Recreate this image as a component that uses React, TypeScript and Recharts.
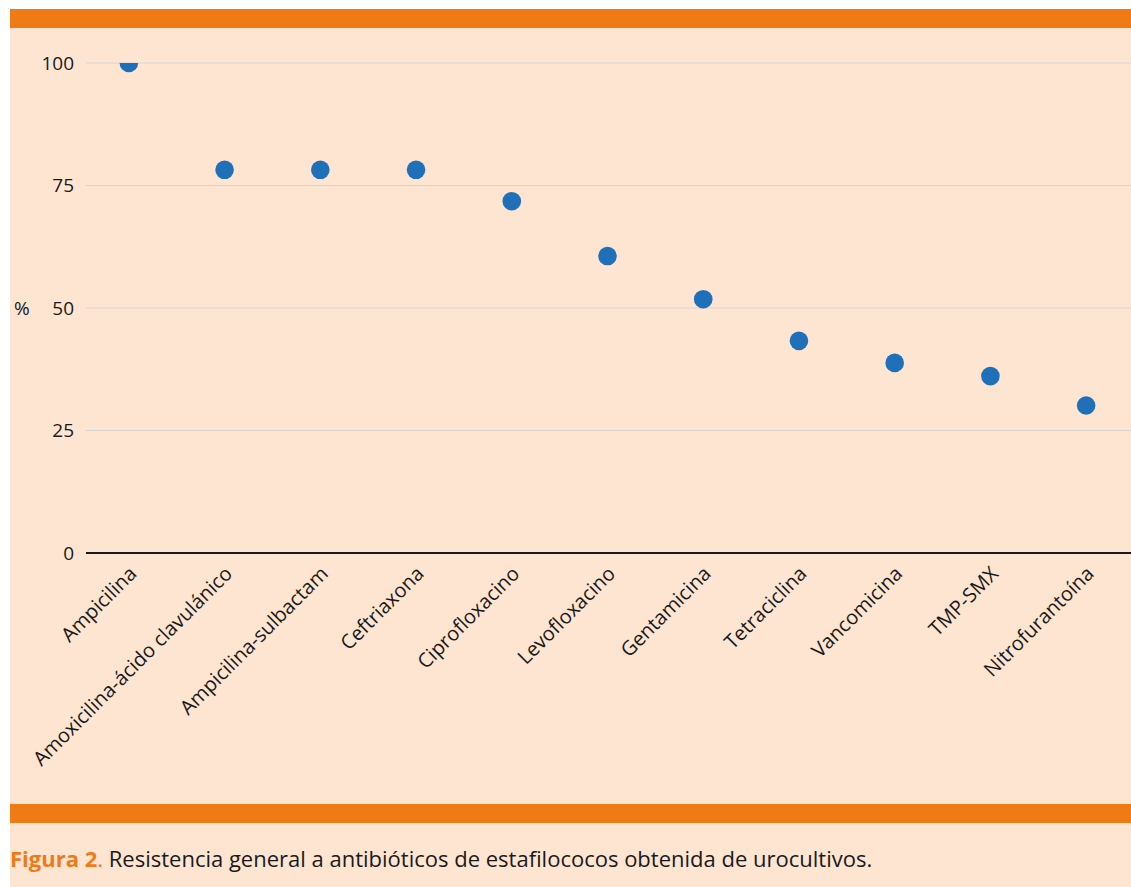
import { CartesianGrid, Scatter, ScatterChart, XAxis, YAxis } from 'recharts';

const antibiotics = [
  'Ampicilina',
  'Amoxicilina-ácido clavulánico',
  'Ampicilina-sulbactam',
  'Ceftriaxona',
  'Ciprofloxacino',
  'Levofloxacino',
  'Gentamicina',
  'Tetraciclina',
  'Vancomicina',
  'TMP-SMX',
  'Nitrofurantoína',
];
const resistance = [100, 78.2, 78.2, 78.2, 71.8, 60.6, 51.8, 43.3, 38.8, 36.1, 30.1];
const yTicks = [0, 25, 50, 75, 100];

const FONT = '"Open Sans", Lato, sans-serif';
const ORANGE = '#f07a16';
const PEACH = '#fde5d2';
const INK = '#1a1a1a';
const DOT = '#1f70b8';

const data = antibiotics.map((name, i) => ({ name, value: resistance[i] }));

function CategoryTick({ x, y, payload }: any) {
  return (
    <g transform={`translate(${x + 9},${y + 14})`}>
      <text textAnchor="end" transform="rotate(-45)" fontSize={20} fill={INK} fontFamily={FONT}>
        {payload.value}
      </text>
    </g>
  );
}

// dots are clipped to the plot area (the 100% point is cut in half)
function Dot({ cx, cy, index }: any) {
  const id = `dot-clip-${index}`;
  return (
    <g>
      <defs>
        <clipPath id={id}>
          <rect x={86} y={63} width={1045} height={490} />
        </clipPath>
      </defs>
      <circle cx={cx} cy={cy} r={9.3} fill={DOT} clipPath={`url(#${id})`} />
    </g>
  );
}

export default function App() {
  return (
    <div style={{ position: 'absolute', left: 0, top: 0, width: 1131, height: 887, background: '#fff', overflow: 'hidden' }}>
      <div style={{ position: 'absolute', left: 10, top: 9, right: 0, bottom: 0, background: PEACH }} />
      <div style={{ position: 'absolute', left: 10, top: 9, right: 0, height: 19, background: ORANGE }} />
      <div style={{ position: 'absolute', left: 10, top: 804, right: 0, height: 19, background: ORANGE }} />
      <div style={{ position: 'absolute', left: 0, top: 0 }}>
        <ScatterChart width={1131} height={800} margin={{ top: 63, right: 0, bottom: 47, left: 16 }}>
          <CartesianGrid vertical={false} stroke="#d9d6d2" strokeWidth={1.2} />
          <XAxis
            dataKey="name"
            type="category"
            allowDuplicatedCategory={false}
            padding={{ left: -5, right: -3 }}
            height={200}
            axisLine={{ stroke: INK, strokeWidth: 2 }}
            tickLine={false}
            interval={0}
            tick={<CategoryTick />}
          />
          <YAxis
            dataKey="value"
            type="number"
            domain={[0, 100]}
            ticks={yTicks}
            allowDataOverflow
            width={70}
            axisLine={false}
            tickLine={false}
            tickMargin={6}
            tick={{ fontSize: 19, fill: INK, fontFamily: FONT }}
            label={{ value: '%', position: 'insideLeft', offset: -2, fontSize: 19, fill: INK, fontFamily: FONT }}
          />
          <Scatter data={data} fill={DOT} shape={<Dot />} isAnimationActive={false} />
        </ScatterChart>
      </div>
      <div style={{ position: 'absolute', left: 10, top: 843, fontFamily: FONT, fontSize: 22, color: INK, whiteSpace: 'nowrap' }}>
        <span style={{ color: ORANGE, fontWeight: 700 }}>Figura 2</span>
        <span style={{ color: ORANGE }}>. </span>
        Resistencia general a antibióticos de estafilococos obtenida de urocultivos.
      </div>
    </div>
  );
}
